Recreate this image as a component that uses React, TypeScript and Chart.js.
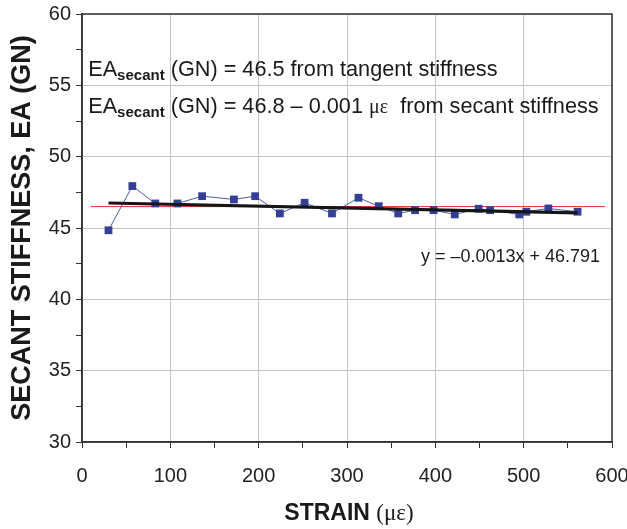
import React, { useEffect, useRef } from "react";
import { Chart, registerables } from "chart.js";

Chart.register(...registerables);

// Measured data: strain (µε) vs secant stiffness EA (GN)
const strain = [30, 57, 83, 108, 136, 172, 196, 224, 252, 283, 313, 336, 358, 377, 398, 422, 449, 462, 495, 503, 528, 561];
const stiffness = [44.84, 47.94, 46.72, 46.72, 47.23, 47.0, 47.23, 46.02, 46.77, 46.02, 47.12, 46.53, 46.02, 46.25, 46.25, 45.95, 46.35, 46.25, 45.95, 46.14, 46.37, 46.14];

// Tangent-stiffness level (red)
const tangentX = [10, 592];
const tangentY = [46.5, 46.5];

// Linear trendline endpoints (y = -0.0013x + 46.791)
const trendX = [30, 561];
const trendY = [46.752, 46.062];

const yTicksMajor = [30, 35, 40, 45, 50, 55, 60];
const xTicksMajor = [0, 100, 200, 300, 400, 500, 600];

const FONT = "'Liberation Sans', Arial, sans-serif";

const textPlugin = {
  id: "annotText",
  afterDraw(chart: any) {
    const { ctx, chartArea, scales } = chart;
    const xs = scales.x;
    const ys = scales.y;
    ctx.save();
    // frame
    ctx.strokeStyle = "#333";
    ctx.lineWidth = 1.5;
    ctx.strokeRect(chartArea.left, chartArea.top, chartArea.right - chartArea.left, chartArea.bottom - chartArea.top);

    ctx.fillStyle = "#1a1a1a";
    ctx.textBaseline = "alphabetic";
    ctx.textAlign = "left";

    const drawLine = (parts: { t: string; f: string; dy?: number }[], x: number, y: number) => {
      let cx = x;
      for (const p of parts) {
        ctx.font = p.f;
        ctx.fillText(p.t, cx, y + (p.dy || 0));
        cx += ctx.measureText(p.t).width;
      }
    };
    const reg = `21.7px ${FONT}`;
    const sub = `bold 15px ${FONT}`;

    drawLine(
      [
        { t: "EA", f: reg },
        { t: "secant", f: sub, dy: 4 },
        { t: " (GN) = 46.5 from tangent stiffness", f: reg },
      ],
      xs.getPixelForValue(7),
      ys.getPixelForValue(55.64)
    );
    drawLine(
      [
        { t: "EA", f: reg },
        { t: "secant", f: sub, dy: 4 },
        { t: " (GN) = 46.8 \u2013 0.001 ", f: reg },
        { t: "\u03bc\u03b5", f: `20px 'Liberation Serif', serif` },
        { t: "  from secant stiffness", f: reg },
      ],
      xs.getPixelForValue(7),
      ys.getPixelForValue(53.04)
    );

    // trendline equation
    ctx.font = `18px ${FONT}`;
    ctx.textAlign = "right";
    ctx.fillText("y = \u20130.0013x + 46.791", xs.getPixelForValue(586.5), ys.getPixelForValue(42.65));

    // y axis title
    ctx.save();
    ctx.translate(23, (chartArea.top + chartArea.bottom) / 2);
    ctx.rotate(-Math.PI / 2);
    ctx.font = `bold 27px ${FONT}`;
    ctx.textAlign = "center";
    ctx.textBaseline = "middle";
    ctx.fillText("SECANT STIFFNESS, EA (GN)", 0, 0);
    ctx.restore();

    // x axis title
    const p1 = "STRAIN ";
    const p2 = "(\u03bc\u03b5)";
    const f1 = `bold 23px ${FONT}`;
    const f2 = `23px 'Liberation Serif', serif`;
    ctx.font = f1;
    const w1 = ctx.measureText(p1).width;
    ctx.font = f2;
    const w2 = ctx.measureText(p2).width;
    const cx = (chartArea.left + chartArea.right) / 2 + 2 - (w1 + w2) / 2;
    ctx.textAlign = "left";
    ctx.textBaseline = "alphabetic";
    ctx.font = f1;
    ctx.fillText(p1, cx, 520);
    ctx.font = f2;
    ctx.fillText(p2, cx + w1, 520);
    ctx.restore();
  },
};

export default function App() {
  const ref = useRef<HTMLCanvasElement>(null);
  useEffect(() => {
    document.body.style.margin = "0";
    const canvas = ref.current!;
    const chart = new Chart(canvas, {
      type: "scatter",
      data: {
        datasets: [
          {
            label: "trend",
            data: trendX.map((x, i) => ({ x, y: trendY[i] })),
            showLine: true,
            borderColor: "#151515",
            borderWidth: 3.2,
            pointRadius: 0,
          },
          {
            label: "secant",
            data: strain.map((x, i) => ({ x, y: stiffness[i] })),
            showLine: true,
            borderColor: "#4f5aa8",
            borderWidth: 1,
            pointStyle: "rect",
            pointRadius: 5.5,
            pointBorderWidth: 0,
            pointBackgroundColor: "#353f95",
            pointBorderColor: "#353f95",
          },
          {
            label: "tangent",
            data: tangentX.map((x, i) => ({ x, y: tangentY[i] })),
            showLine: true,
            borderColor: "#e0301e",
            borderWidth: 1,
            pointRadius: 0,
          },
        ],
      },
      options: {
        responsive: false,
        animation: false,
        devicePixelRatio: 1,
        layout: { padding: { left: 0, right: 15, top: 14, bottom: 0 } },
        plugins: { legend: { display: false }, tooltip: { enabled: false } },
        scales: {
          x: {
            type: "linear",
            min: 0,
            max: 600,
            afterFit: (s: any) => {
              s.height = 87;
              s.paddingLeft = 0;
              s.paddingRight = 0;
            },
            ticks: {
              stepSize: 50,
              autoSkip: false,
              maxRotation: 0,
              padding: 16,
              color: "#222",
              font: { family: FONT, size: 20 },
              callback: (v: any) => (xTicksMajor.includes(Number(v)) ? String(v) : ""),
            },
            grid: {
              color: (c: any) => (c.tick && xTicksMajor.includes(c.tick.value) ? "#c4c4c4" : "rgba(0,0,0,0)"),
              tickColor: "#333",
              tickLength: 6,
              lineWidth: 1,
            },
            border: { color: "#333", width: 1.5 },
          },
          y: {
            type: "linear",
            min: 30,
            max: 60,
            afterFit: (s: any) => {
              s.width = 82;
              s.paddingTop = 0;
              s.paddingBottom = 0;
            },
            ticks: {
              stepSize: 2.5,
              autoSkip: false,
              padding: 5,
              color: "#222",
              font: { family: FONT, size: 20 },
              callback: (v: any) => (yTicksMajor.includes(Number(v)) ? String(v) : ""),
            },
            grid: {
              color: (c: any) => (c.tick && yTicksMajor.includes(c.tick.value) ? "#c4c4c4" : "rgba(0,0,0,0)"),
              tickColor: "#333",
              tickLength: 6,
              lineWidth: 1,
            },
            border: { color: "#333", width: 1.5 },
          },
        },
      },
      plugins: [textPlugin],
    });
    return () => chart.destroy();
  }, []);
  return <canvas ref={ref} width={627} height={529} style={{ display: "block" }} />;
}
